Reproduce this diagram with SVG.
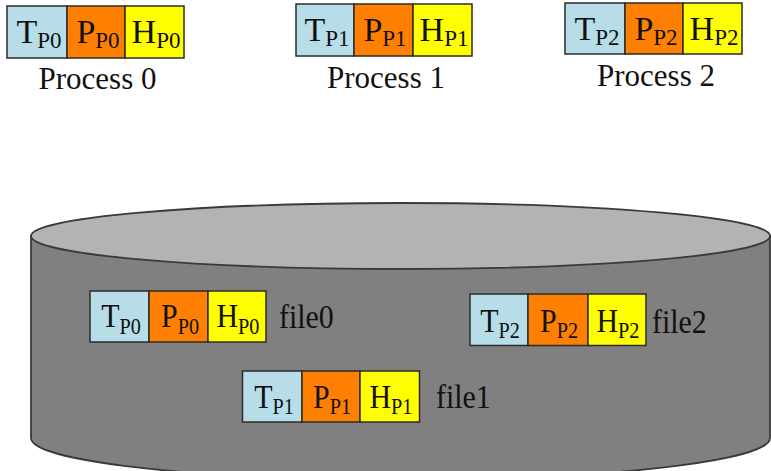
<svg xmlns="http://www.w3.org/2000/svg" width="771" height="471" viewBox="0 0 771 471">
<style>
  .t{fill:#B7DEE8}
  .p{fill:#FF8000}
  .h{fill:#FFFF00}
  .cell{stroke:#2b2b2b;stroke-width:1.5}
  .lbl{font-size:34px;fill:#111;text-anchor:middle}
  .sub{font-size:23px}
  .cap{font-size:31px;fill:#111}
  .body{fill:#808080;stroke:#3a3a3a;stroke-width:1.8}
  .top{fill:#B3B3B3;stroke:#3a3a3a;stroke-width:1.8}
</style>
<rect width="771" height="471" fill="#fff"/>

<g id="disk">
  <path class="body" d="M31,236 L31,438 A369.5,42 0 0 0 770,438 L770,236 Z"/>
  <ellipse class="top" cx="400.5" cy="236" rx="369.5" ry="33"/>
</g>

<g font-family="Liberation Serif, DejaVu Serif, Times New Roman, serif">
<g id="process0">
  <rect class="t cell" x="7" y="6" width="60" height="52"/>
  <rect class="p cell" x="67" y="6" width="58" height="52"/>
  <rect class="h cell" x="125" y="6" width="59" height="52"/>
  <text class="lbl" x="39" y="43">T<tspan class="sub" dy="5">P0</tspan></text>
  <text class="lbl" x="98" y="43">P<tspan class="sub" dy="5">P0</tspan></text>
  <text class="lbl" x="156" y="43">H<tspan class="sub" dy="5">P0</tspan></text>
  <text class="cap" x="97.5" y="89" text-anchor="middle">Process 0</text>
</g>

<g id="process1">
  <rect class="t cell" x="296" y="4" width="58" height="52"/>
  <rect class="p cell" x="354" y="4" width="59" height="52"/>
  <rect class="h cell" x="413" y="4" width="59" height="52"/>
  <text class="lbl" x="327" y="41">T<tspan class="sub" dy="5">P1</tspan></text>
  <text class="lbl" x="385" y="41">P<tspan class="sub" dy="5">P1</tspan></text>
  <text class="lbl" x="444" y="41">H<tspan class="sub" dy="5">P1</tspan></text>
  <text class="cap" x="386" y="88" text-anchor="middle">Process 1</text>
</g>

<g id="process2">
  <rect class="t cell" x="565" y="3" width="60" height="51"/>
  <rect class="p cell" x="625" y="3" width="58" height="51"/>
  <rect class="h cell" x="683" y="3" width="59" height="51"/>
  <text class="lbl" x="597" y="40">T<tspan class="sub" dy="5">P2</tspan></text>
  <text class="lbl" x="656" y="40">P<tspan class="sub" dy="5">P2</tspan></text>
  <text class="lbl" x="714" y="40">H<tspan class="sub" dy="5">P2</tspan></text>
  <text class="cap" x="656" y="86" text-anchor="middle">Process 2</text>
</g>

<g id="file0">
  <rect class="t cell" x="90" y="291" width="59" height="51"/>
  <rect class="p cell" x="149" y="291" width="59" height="51"/>
  <rect class="h cell" x="208" y="291" width="58" height="51"/>
  <text class="lbl" transform="translate(121,327) scale(0.88,1)">T<tspan class="sub" dy="6.5">P0</tspan></text>
  <text class="lbl" transform="translate(180,327) scale(0.88,1)">P<tspan class="sub" dy="6.5">P0</tspan></text>
  <text class="lbl" transform="translate(238,327) scale(0.88,1)">H<tspan class="sub" dy="6.5">P0</tspan></text>
  <text class="lbl" style="text-anchor:start" transform="translate(279,328) scale(0.88,1)">file0</text>
</g>

<g id="file2">
  <rect class="t cell" x="470" y="294" width="58" height="51.5"/>
  <rect class="p cell" x="528" y="294" width="60" height="51.5"/>
  <rect class="h cell" x="588" y="294" width="58" height="51.5"/>
  <text class="lbl" transform="translate(500,331.5) scale(0.88,1)">T<tspan class="sub" dy="6.5">P2</tspan></text>
  <text class="lbl" transform="translate(559,331.5) scale(0.88,1)">P<tspan class="sub" dy="6.5">P2</tspan></text>
  <text class="lbl" transform="translate(618,331.5) scale(0.88,1)">H<tspan class="sub" dy="6.5">P2</tspan></text>
  <text class="lbl" style="text-anchor:start" transform="translate(652,333) scale(0.88,1)">file2</text>
</g>

<g id="file1">
  <rect class="t cell" x="242.5" y="371" width="59.5" height="51"/>
  <rect class="p cell" x="302" y="371" width="58" height="51"/>
  <rect class="h cell" x="360" y="371" width="59.5" height="51"/>
  <text class="lbl" transform="translate(274,407.5) scale(0.88,1)">T<tspan class="sub" dy="6.5">P1</tspan></text>
  <text class="lbl" transform="translate(332,407.5) scale(0.88,1)">P<tspan class="sub" dy="6.5">P1</tspan></text>
  <text class="lbl" transform="translate(391,407.5) scale(0.88,1)">H<tspan class="sub" dy="6.5">P1</tspan></text>
  <text class="lbl" style="text-anchor:start" transform="translate(436,407.5) scale(0.88,1)">file1</text>
</g>
</g>

<g id="connectors"></g>
</svg>
